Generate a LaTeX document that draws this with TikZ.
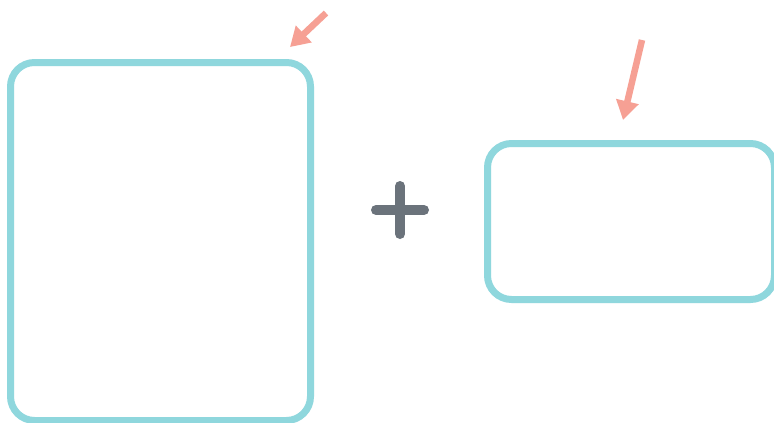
\documentclass[tikz,border=0pt]{standalone}
\usetikzlibrary{arrows.meta}
\definecolor{boxteal}{RGB}{143,215,221}
\definecolor{arrowsalmon}{RGB}{246,160,148}
\definecolor{plusgray}{RGB}{107,115,123}
\begin{document}
\begin{tikzpicture}[x=1pt,y=-1pt,
  panel/.style={draw=boxteal,line width=7pt,rounded corners=24pt,fill=white,inner sep=0pt},
  pointer/.style={draw=arrowsalmon,line width=6.5pt,-{Triangle[length=19pt,width=22pt]},arrowsalmon},
  plusbar/.style={draw=plusgray,line width=10pt,line cap=round}]
\useasboundingbox (0,0) rectangle (774,423);
\fill[white] (0,0) rectangle (774,423);
% left panel
\node[panel,minimum width=300pt,minimum height=358pt] (left) at (160.5,241.5) {};
% right panel
\node[panel,minimum width=287pt,minimum height=156pt] (right) at (631,221.5) {};
% plus sign
\coordinate (plusL) at (376,210);
\coordinate (plusR) at (424,210);
\coordinate (plusT) at (400,186);
\coordinate (plusB) at (400,234);
\draw[plusbar] (plusL) -- (plusR);
\draw[plusbar] (plusT) -- (plusB);
% arrows
\coordinate (a1s) at (326,13);
\coordinate (a1e) at (290,47);
\coordinate (a2s) at (642,40);
\coordinate (a2e) at (623,120);
\draw[pointer] (a1s) -- (a1e);
\draw[pointer] (a2s) -- (a2e);
\end{tikzpicture}
\end{document}
